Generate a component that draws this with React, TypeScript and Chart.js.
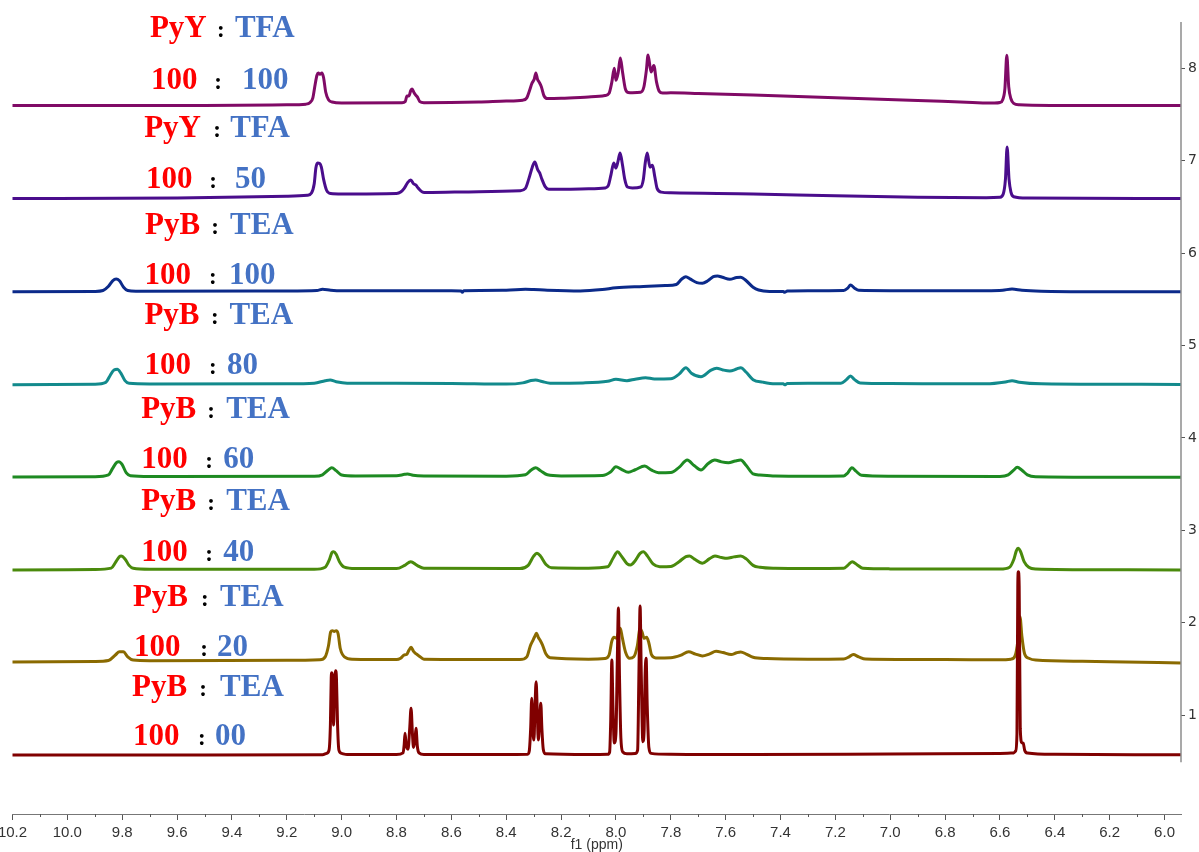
import React, { useEffect, useRef } from "react";
import { Chart, registerables } from "chart.js";

Chart.register(...registerables);

// ---------- axis ticks ----------
const X_TICKS = [10.2, 10.0, 9.8, 9.6, 9.4, 9.2, 9.0, 8.8, 8.6, 8.4, 8.2, 8.0, 7.8, 7.6, 7.4, 7.2, 7.0, 6.8, 6.6, 6.4, 6.2, 6.0];
const X_MINOR_TICKS = [10.1, 9.9, 9.7, 9.5, 9.3, 9.1, 8.9, 8.7, 8.5, 8.3, 8.1, 7.9, 7.7, 7.5, 7.3, 7.1, 6.9, 6.7, 6.5, 6.3, 6.1];
const Y_TICKS = [1, 2, 3, 4, 5, 6, 7, 8];
const X_TITLE = "f1 (ppm)";

// ---------- spectra: [ppm, intensity] ----------
const PYB_TEA_100_00: [number, number][] = [
  [10.22, 0.568], [9.5, 0.568], [9.07, 0.57], [9.055, 0.585], [9.046, 0.62], [9.041, 0.9], [9.038, 1.4], [9.036, 1.458],
  [9.033, 1.35], [9.029, 0.892], [9.026, 1.3], [9.022, 1.48], [9.019, 1.4], [9.015, 0.9], [9.01, 0.62], [9.0, 0.585],
  [8.98, 0.572], [8.8, 0.572], [8.776, 0.59], [8.772, 0.68], [8.769, 0.803], [8.765, 0.68], [8.758, 0.63], [8.752, 0.85],
  [8.747, 1.073], [8.742, 0.8], [8.738, 0.65], [8.733, 0.72], [8.729, 0.857], [8.724, 0.66], [8.718, 0.59], [8.7, 0.572],
  [8.4, 0.572], [8.322, 0.576], [8.316, 0.61], [8.311, 0.85], [8.307, 1.181], [8.303, 0.85], [8.299, 0.73], [8.295, 1.1],
  [8.291, 1.361], [8.287, 1.05], [8.283, 0.73], [8.278, 0.95], [8.274, 1.127], [8.27, 0.85], [8.265, 0.63], [8.257, 0.58],
  [8.1, 0.572], [8.03, 0.575], [8.023, 0.6], [8.019, 0.95], [8.015, 1.596], [8.011, 1.1], [8.006, 0.698], [8.0, 0.8],
  [7.995, 1.6], [7.991, 2.158], [7.987, 1.4], [7.982, 0.75], [7.975, 0.6], [7.96, 0.58], [7.93, 0.583], [7.921, 0.62],
  [7.916, 1.5], [7.912, 2.18], [7.908, 1.5], [7.902, 0.712], [7.897, 0.85], [7.894, 1.4], [7.89, 1.614], [7.886, 1.1],
  [7.88, 0.65], [7.872, 0.585], [7.8, 0.575], [7.5, 0.572], [7.0, 0.578], [6.6, 0.585], [6.55, 0.59], [6.543, 0.61],
  [6.538, 0.8], [6.535, 2.4], [6.533, 2.552], [6.53, 2.4], [6.526, 0.85], [6.52, 0.7], [6.515, 0.694], [6.51, 0.62],
  [6.5, 0.59], [6.4, 0.575], [5.94, 0.57],
];

const PYB_TEA_100_20: [number, number][] = [
  [10.22, 1.575], [9.9, 1.58], [9.85, 1.59], [9.825, 1.65], [9.81, 1.686], [9.796, 1.686], [9.78, 1.63], [9.76, 1.595],
  [9.7, 1.588], [9.2, 1.592], [9.08, 1.598], [9.06, 1.63], [9.048, 1.75], [9.04, 1.9], [9.034, 1.913], [9.027, 1.905],
  [9.02, 1.913], [9.013, 1.88], [9.005, 1.72], [8.99, 1.63], [8.96, 1.605], [8.8, 1.6], [8.785, 1.615], [8.772, 1.65],
  [8.763, 1.655], [8.755, 1.7], [8.747, 1.733], [8.738, 1.69], [8.728, 1.661], [8.718, 1.64], [8.7, 1.605], [8.35, 1.6],
  [8.325, 1.63], [8.312, 1.75], [8.305, 1.794], [8.296, 1.85], [8.29, 1.885], [8.283, 1.84], [8.277, 1.812], [8.268, 1.76],
  [8.255, 1.66], [8.24, 1.62], [8.1, 1.605], [8.04, 1.612], [8.025, 1.65], [8.015, 1.8], [8.007, 1.842], [7.998, 1.83],
  [7.99, 1.9], [7.984, 1.939], [7.977, 1.84], [7.965, 1.68], [7.95, 1.614], [7.935, 1.63], [7.922, 1.75], [7.912, 1.939],
  [7.905, 1.9], [7.897, 1.83], [7.888, 1.842], [7.88, 1.78], [7.87, 1.65], [7.855, 1.618], [7.8, 1.62], [7.765, 1.645],
  [7.735, 1.686], [7.71, 1.66], [7.685, 1.64], [7.66, 1.66], [7.635, 1.69], [7.61, 1.676], [7.58, 1.655], [7.56, 1.675],
  [7.545, 1.683], [7.525, 1.66], [7.5, 1.625], [7.45, 1.612], [7.3, 1.605], [7.17, 1.607], [7.15, 1.63], [7.135, 1.655],
  [7.115, 1.63], [7.09, 1.607], [6.8, 1.6], [6.6, 1.598], [6.56, 1.605], [6.545, 1.64], [6.535, 1.8], [6.527, 2.065],
  [6.52, 1.85], [6.51, 1.66], [6.495, 1.615], [6.47, 1.595], [6.3, 1.582], [6.2, 1.578], [5.94, 1.563],
];

const PYB_TEA_100_40: [number, number][] = [
  [10.22, 2.57], [9.9, 2.575], [9.84, 2.59], [9.825, 2.65], [9.81, 2.715], [9.804, 2.721], [9.79, 2.69], [9.775, 2.62],
  [9.76, 2.588], [9.7, 2.578], [9.1, 2.578], [9.06, 2.6], [9.045, 2.68], [9.035, 2.76], [9.029, 2.768], [9.02, 2.74],
  [9.008, 2.66], [8.99, 2.6], [8.95, 2.585], [8.8, 2.585], [8.77, 2.62], [8.748, 2.66], [8.725, 2.62], [8.7, 2.588],
  [8.35, 2.585], [8.32, 2.62], [8.3, 2.72], [8.288, 2.751], [8.275, 2.72], [8.255, 2.63], [8.235, 2.595], [8.1, 2.59],
  [8.03, 2.605], [8.01, 2.7], [7.994, 2.768], [7.98, 2.72], [7.96, 2.64], [7.947, 2.624], [7.93, 2.67], [7.912, 2.75],
  [7.9, 2.768], [7.885, 2.72], [7.865, 2.635], [7.84, 2.606], [7.8, 2.608], [7.77, 2.66], [7.745, 2.715], [7.732, 2.721],
  [7.715, 2.69], [7.685, 2.643], [7.66, 2.69], [7.639, 2.721], [7.615, 2.705], [7.595, 2.697], [7.57, 2.712], [7.545, 2.721],
  [7.525, 2.69], [7.5, 2.62], [7.475, 2.599], [7.42, 2.588], [7.3, 2.585], [7.17, 2.588], [7.155, 2.62], [7.139, 2.66],
  [7.12, 2.625], [7.1, 2.588], [7.0, 2.582], [6.6, 2.58], [6.565, 2.6], [6.55, 2.68], [6.54, 2.78], [6.534, 2.805],
  [6.525, 2.77], [6.512, 2.66], [6.495, 2.6], [6.47, 2.581], [6.2, 2.572], [5.94, 2.57],
];

const PYB_TEA_100_60: [number, number][] = [
  [10.22, 3.577], [9.9, 3.58], [9.85, 3.6], [9.835, 3.67], [9.82, 3.735], [9.812, 3.742], [9.8, 3.71], [9.785, 3.62],
  [9.77, 3.59], [9.7, 3.582], [9.1, 3.585], [9.07, 3.6], [9.05, 3.65], [9.036, 3.677], [9.02, 3.645], [9.0, 3.598],
  [8.95, 3.588], [8.8, 3.59], [8.77, 3.605], [8.76, 3.609], [8.74, 3.595], [8.7, 3.588], [8.4, 3.585], [8.33, 3.6],
  [8.31, 3.65], [8.293, 3.677], [8.275, 3.645], [8.25, 3.6], [8.2, 3.588], [8.05, 3.592], [8.02, 3.63], [8.0, 3.688],
  [7.98, 3.66], [7.955, 3.627], [7.93, 3.655], [7.895, 3.695], [7.87, 3.65], [7.845, 3.623], [7.8, 3.625], [7.77, 3.68],
  [7.74, 3.76], [7.715, 3.7], [7.69, 3.652], [7.665, 3.72], [7.64, 3.76], [7.615, 3.74], [7.59, 3.731], [7.565, 3.75],
  [7.545, 3.76], [7.525, 3.7], [7.5, 3.61], [7.475, 3.598], [7.42, 3.587], [7.3, 3.585], [7.17, 3.588], [7.155, 3.62],
  [7.14, 3.677], [7.125, 3.64], [7.105, 3.595], [7.0, 3.585], [6.6, 3.583], [6.57, 3.6], [6.55, 3.65], [6.537, 3.681],
  [6.52, 3.65], [6.5, 3.6], [6.47, 3.58], [6.2, 3.575], [5.94, 3.573],
];

const PYB_TEA_100_80: [number, number][] = [
  [10.22, 4.575], [9.9, 4.58], [9.86, 4.6], [9.845, 4.67], [9.83, 4.735], [9.818, 4.742], [9.805, 4.7], [9.79, 4.62],
  [9.775, 4.59], [9.7, 4.583], [9.2, 4.585], [9.1, 4.592], [9.06, 4.618], [9.042, 4.626], [9.02, 4.608], [8.98, 4.592],
  [8.8, 4.59], [8.6, 4.588], [8.4, 4.582], [8.34, 4.595], [8.31, 4.62], [8.293, 4.626], [8.27, 4.61], [8.24, 4.592],
  [8.12, 4.595], [8.03, 4.612], [8.0, 4.634], [7.96, 4.619], [7.93, 4.635], [7.892, 4.651], [7.86, 4.638], [7.8, 4.64],
  [7.77, 4.69], [7.745, 4.759], [7.725, 4.7], [7.69, 4.662], [7.655, 4.73], [7.633, 4.753], [7.61, 4.735], [7.585, 4.724],
  [7.56, 4.745], [7.545, 4.759], [7.525, 4.71], [7.5, 4.63], [7.465, 4.603], [7.42, 4.585], [7.39, 4.585], [7.385, 4.575],
  [7.375, 4.588], [7.3, 4.59], [7.18, 4.592], [7.16, 4.63], [7.145, 4.67], [7.13, 4.63], [7.11, 4.595], [7.0, 4.588],
  [6.65, 4.585], [6.58, 4.605], [6.556, 4.619], [6.53, 4.603], [6.45, 4.585], [6.2, 4.58], [5.94, 4.578],
];

const PYB_TEA_100_100: [number, number][] = [
  [10.22, 5.58], [9.9, 5.585], [9.87, 5.595], [9.85, 5.64], [9.835, 5.7], [9.822, 5.72], [9.81, 5.7], [9.795, 5.63],
  [9.78, 5.595], [9.75, 5.588], [9.2, 5.59], [9.09, 5.595], [9.07, 5.608], [9.04, 5.598], [9.0, 5.592], [8.6, 5.592],
  [8.565, 5.59], [8.56, 5.575], [8.555, 5.592], [8.4, 5.598], [8.33, 5.608], [8.3, 5.605], [8.25, 5.598], [8.13, 5.59],
  [8.05, 5.605], [8.0, 5.625], [7.9, 5.638], [7.82, 5.648], [7.78, 5.66], [7.76, 5.72], [7.745, 5.744], [7.73, 5.72],
  [7.705, 5.68], [7.685, 5.673], [7.665, 5.7], [7.645, 5.745], [7.63, 5.752], [7.612, 5.738], [7.585, 5.716], [7.56, 5.735],
  [7.545, 5.738], [7.525, 5.7], [7.5, 5.63], [7.48, 5.6], [7.44, 5.585], [7.39, 5.585], [7.385, 5.575], [7.375, 5.59],
  [7.3, 5.593], [7.17, 5.595], [7.155, 5.62], [7.145, 5.654], [7.13, 5.62], [7.115, 5.597], [7.0, 5.593], [6.65, 5.593],
  [6.59, 5.598], [6.556, 5.611], [6.52, 5.598], [6.45, 5.588], [6.2, 5.582], [5.94, 5.581],
];

const PYY_TFA_100_50: [number, number][] = [
  [10.22, 6.591], [9.6, 6.596], [9.2, 6.615], [9.125, 6.625], [9.11, 6.65], [9.1, 6.75], [9.094, 6.92], [9.088, 6.975],
  [9.08, 6.97], [9.074, 6.93], [9.066, 6.8], [9.055, 6.68], [9.04, 6.645], [9.0, 6.64], [8.8, 6.645], [8.785, 6.66],
  [8.772, 6.7], [8.76, 6.76], [8.748, 6.791], [8.738, 6.75], [8.73, 6.737], [8.72, 6.7], [8.705, 6.66], [8.69, 6.655],
  [8.5, 6.665], [8.35, 6.675], [8.33, 6.7], [8.318, 6.8], [8.305, 6.93], [8.296, 6.986], [8.285, 6.9], [8.278, 6.867],
  [8.27, 6.8], [8.258, 6.72], [8.245, 6.69], [8.1, 6.695], [8.04, 6.705], [8.028, 6.73], [8.018, 6.85], [8.008, 6.975],
  [8.0, 6.92], [7.992, 7.0], [7.985, 7.083], [7.976, 6.95], [7.968, 6.8], [7.958, 6.715], [7.94, 6.705], [7.91, 6.715],
  [7.9, 6.8], [7.893, 6.98], [7.886, 7.083], [7.876, 6.93], [7.867, 6.95], [7.858, 6.82], [7.85, 6.7], [7.835, 6.66],
  [7.8, 6.652], [7.5, 6.64], [7.2, 6.62], [6.9, 6.605], [6.65, 6.6], [6.6, 6.605], [6.588, 6.64], [6.58, 6.8],
  [6.574, 7.148], [6.567, 6.8], [6.56, 6.66], [6.55, 6.61], [6.5, 6.595], [5.94, 6.59],
];

const PYY_TFA_100_100: [number, number][] = [
  [10.22, 7.596], [9.5, 7.598], [9.2, 7.605], [9.13, 7.612], [9.115, 7.63], [9.105, 7.68], [9.097, 7.82], [9.09, 7.925],
  [9.085, 7.948], [9.079, 7.935], [9.072, 7.948], [9.066, 7.9], [9.058, 7.74], [9.048, 7.66], [9.035, 7.635], [9.0, 7.625],
  [8.78, 7.626], [8.768, 7.64], [8.762, 7.7], [8.755, 7.7], [8.748, 7.76], [8.743, 7.776], [8.737, 7.74], [8.73, 7.71],
  [8.724, 7.69], [8.715, 7.64], [8.7, 7.628], [8.5, 7.635], [8.4, 7.645], [8.34, 7.655], [8.325, 7.68], [8.315, 7.76],
  [8.306, 7.84], [8.298, 7.88], [8.292, 7.95], [8.286, 7.88], [8.28, 7.85], [8.272, 7.8], [8.262, 7.7], [8.25, 7.672],
  [8.2, 7.675], [8.1, 7.69], [8.04, 7.705], [8.025, 7.73], [8.015, 7.85], [8.006, 8.0], [8.0, 7.87], [7.992, 7.95],
  [7.984, 8.111], [7.976, 7.96], [7.966, 7.78], [7.955, 7.738], [7.94, 7.735], [7.91, 7.74], [7.898, 7.8], [7.889, 7.98],
  [7.883, 8.144], [7.872, 7.96], [7.862, 8.03], [7.852, 7.85], [7.842, 7.75], [7.83, 7.732], [7.8, 7.735], [7.7, 7.728],
  [7.5, 7.711], [7.2, 7.68], [6.9, 7.652], [6.7, 7.63], [6.62, 7.624], [6.6, 7.63], [6.59, 7.66], [6.582, 7.78],
  [6.575, 8.14], [6.568, 7.8], [6.56, 7.67], [6.55, 7.62], [6.53, 7.605], [6.4, 7.598], [5.94, 7.596],
];

// bottom to top (bottom trace is drawn on top)
const SERIES = [PYB_TEA_100_00, PYB_TEA_100_20, PYB_TEA_100_40, PYB_TEA_100_60, PYB_TEA_100_80, PYB_TEA_100_100, PYY_TFA_100_50, PYY_TFA_100_100];
const SERIES_NAMES = ["PyB:TEA 100:00", "PyB:TEA 100:20", "PyB:TEA 100:40", "PyB:TEA 100:60", "PyB:TEA 100:80", "PyB:TEA 100:100", "PyY:TFA 100:50", "PyY:TFA 100:100"];
const SERIES_COLORS = ["#800000", "#8a6a00", "#4a8a0c", "#1e8a22", "#128a8c", "#0b2a8a", "#4a0d8c", "#800a66"];

// ---------- annotation texts (same order, bottom to top) ----------
const LABEL_PAIR = [["PyB", "TEA"], ["PyB", "TEA"], ["PyB", "TEA"], ["PyB", "TEA"], ["PyB", "TEA"], ["PyB", "TEA"], ["PyY", "TFA"], ["PyY", "TFA"]];
const LABEL_RATIO = [["100", "00"], ["100", "20"], ["100", "40"], ["100", "60"], ["100", "80"], ["100", "100"], ["100", "50"], ["100", "100"]];

// layout of the annotations: [left ppm, baseline value, colon centre offset px, right part offset px]
const LABEL_PAIR_POS = [
  [9.764, 1.206, 71, 88], [9.761, 2.18, 72, 87], [9.731, 3.219, 70, 85], [9.731, 4.215, 70, 85],
  [9.719, 5.232, 70.5, 85], [9.717, 6.206, 70, 85], [9.72, 7.256, 73, 86], [9.699, 8.339, 71, 85],
];
const LABEL_RATIO_POS = [
  [9.761, 0.676, 69, 82], [9.757, 1.639, 70, 83], [9.731, 2.667, 68, 82], [9.731, 3.674, 68, 82],
  [9.719, 4.691, 68.5, 82.5], [9.719, 5.665, 68.5, 84.5], [9.713, 6.704, 67, 89], [9.695, 7.776, 67, 91],
];

const overlayPlugin = {
  id: "nmrOverlay",
  afterDraw(chart: any) {
    const { ctx, chartArea, scales } = chart;
    const x = scales.x;
    const y = scales.y;
    ctx.save();
    // minor ticks on the ppm axis
    ctx.strokeStyle = "#555555";
    ctx.lineWidth = 1;
    for (const v of X_MINOR_TICKS) {
      const px = Math.round(x.getPixelForValue(v)) + 0.5;
      ctx.beginPath();
      ctx.moveTo(px, chartArea.bottom);
      ctx.lineTo(px, chartArea.bottom + 3);
      ctx.stroke();
    }
    // right intensity axis line
    ctx.strokeStyle = "#8c8c8c";
    ctx.lineWidth = 1.5;
    ctx.beginPath();
    ctx.moveTo(chartArea.right, y.getPixelForValue(8.5));
    ctx.lineTo(chartArea.right, y.getPixelForValue(0.49));
    ctx.stroke();
    // annotation texts
    const bigFont = 'bold 31px "Liberation Serif", "Times New Roman", serif';
    const colonFont = 'bold 23px "Liberation Serif", "Times New Roman", serif';
    ctx.textBaseline = "alphabetic";
    const drawRow = (texts: string[], pos: number[]) => {
      const px = x.getPixelForValue(pos[0]);
      const py = y.getPixelForValue(pos[1]);
      ctx.font = bigFont;
      ctx.textAlign = "left";
      ctx.fillStyle = "#ff0000";
      ctx.fillText(texts[0], px, py);
      ctx.fillStyle = "#4472c4";
      ctx.fillText(texts[1], px + pos[3], py);
      ctx.font = colonFont;
      ctx.textAlign = "center";
      ctx.fillStyle = "#000000";
      ctx.fillText(":", px + pos[2], py);
    };
    for (let i = 0; i < LABEL_PAIR.length; i++) {
      drawRow(LABEL_PAIR[i], LABEL_PAIR_POS[i]);
      drawRow(LABEL_RATIO[i], LABEL_RATIO_POS[i]);
    }
    ctx.restore();
  },
};

export default function App() {
  const canvasRef = useRef<HTMLCanvasElement | null>(null);

  useEffect(() => {
    if (!canvasRef.current) return;
    const chart = new Chart(canvasRef.current, {
      type: "line",
      data: {
        datasets: SERIES.map((s, i) => ({
          label: SERIES_NAMES[i],
          data: s.map(([px, py]) => ({ x: px, y: py })),
          borderColor: SERIES_COLORS[i],
          backgroundColor: SERIES_COLORS[i],
          borderWidth: 3,
          pointRadius: 0,
          pointHoverRadius: 0,
          fill: false,
          cubicInterpolationMode: "monotone" as const,
          borderJoinStyle: "round" as const,
          borderCapStyle: "round" as const,
        })),
      },
      options: {
        animation: false,
        responsive: true,
        maintainAspectRatio: false,
        devicePixelRatio: 1,
        events: [],
        layout: { padding: { top: 28, left: 0, right: 0, bottom: 0 } },
        plugins: { legend: { display: false }, tooltip: { enabled: false }, title: { display: false } },
        scales: {
          x: {
            type: "linear",
            reverse: true,
            min: 5.94,
            max: 10.2,
            afterBuildTicks: (axis: any) => {
              axis.ticks = X_TICKS.map((v) => ({ value: v }));
            },
            afterFit: (s: any) => {
              s.height = 38;
              s.paddingLeft = 12.5;
              s.paddingRight = 0;
            },
            ticks: {
              autoSkip: false,
              maxRotation: 0,
              padding: 4,
              color: "#333333",
              font: { family: '"Liberation Sans", Arial, sans-serif', size: 15 },
              callback: (v: any) => Number(v).toFixed(1),
            },
            grid: { display: true, drawOnChartArea: false, drawTicks: true, tickLength: 6, tickColor: "#555555" },
            border: { display: true, color: "#777777", width: 1 },
            title: {
              display: true,
              text: X_TITLE,
              color: "#333333",
              font: { family: '"Liberation Sans", Arial, sans-serif', size: 14, lineHeight: 1 },
              padding: { top: 0, bottom: 0 },
            },
          },
          y: {
            type: "linear",
            position: "right",
            min: -0.071,
            max: 8.436,
            afterBuildTicks: (axis: any) => {
              axis.ticks = Y_TICKS.map((v) => ({ value: v }));
            },
            afterFit: (s: any) => {
              s.width = 18;
            },
            ticks: {
              autoSkip: false,
              padding: 3,
              color: "#333333",
              font: { family: '"DejaVu Sans", Verdana, sans-serif', size: 14 },
              callback: (v: any) => String(v),
            },
            grid: { display: true, drawOnChartArea: false, drawTicks: true, tickLength: 4, tickColor: "#555555" },
            border: { display: false },
          },
        },
      },
      plugins: [overlayPlugin],
    } as any);
    return () => chart.destroy();
  }, []);

  return (
    <div style={{ position: "fixed", left: 0, top: 0, width: 1199, height: 852, background: "#ffffff", overflow: "hidden" }}>
      <canvas ref={canvasRef} />
    </div>
  );
}
